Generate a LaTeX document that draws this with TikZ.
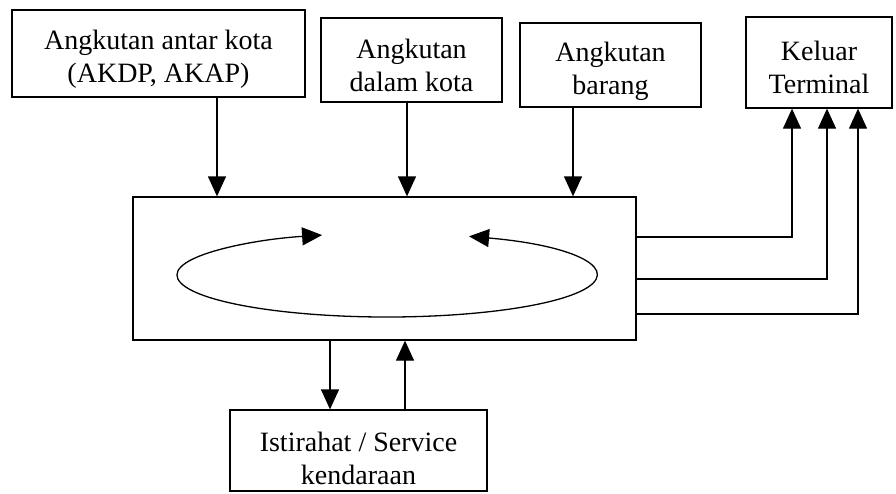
\documentclass[tikz,border=0pt]{standalone}
\usepackage{fontspec}
\setmainfont{Liberation Serif}
\usetikzlibrary{arrows.meta}
\newcommand{\lowr}[1]{\rule{0pt}{#1pt}}
\begin{document}
\begin{tikzpicture}[x=1pt,y=-1pt,
  box/.style={draw,line width=1.3pt,inner sep=0pt,align=center,font=\fontsize{28}{33}\selectfont},
  arr/.style={line width=1.3pt,-{Triangle[length=20pt,width=18pt]}},
  loop/.style={line width=1.3pt,{Triangle[length=20pt,width=18pt]}-{Triangle[length=20pt,width=18pt]}}]
\useasboundingbox[fill=white] (0,0) rectangle (896,493);
% boxes
\node[box,minimum width=293pt,minimum height=87pt] (b1) at (158.5,53.5) {\lowr{31}Angkutan antar kota\\(AKDP, AKAP)};
\node[box,minimum width=181pt,minimum height=84pt] (b2) at (411.5,60) {\lowr{30}Angkutan\\dalam kota};
\node[box,minimum width=181pt,minimum height=84pt] (b3) at (610.5,65) {\lowr{32}Angkutan\\barang};
\node[box,minimum width=146pt,minimum height=91pt] (kel) at (819,62.5) {\lowr{30}Keluar\\Terminal};
\node[box,minimum width=503pt,minimum height=143pt] (main) at (384.5,268.5) {};
\node[box,minimum width=257pt,minimum height=81pt] (ist) at (358.5,450.5) {\lowr{36}Istirahat / Service\\kendaraan};
% x positions of connectors
\coordinate (x1) at (217,0);
\coordinate (x2) at (407,0);
\coordinate (x3) at (573,0);
\coordinate (xd) at (330,0);
\coordinate (xu) at (405,0);
\coordinate (r1) at (792,237);
\coordinate (r2) at (827,279);
\coordinate (r3) at (858,314);
% incoming arrows
\draw[arr] (b1.south -| x1) -- (main.north -| x1);
\draw[arr] (b2.south -| x2) -- (main.north -| x2);
\draw[arr] (b3.south -| x3) -- (main.north -| x3);
% outgoing to Keluar Terminal
\draw[arr] (main.east |- r1) -| (kel.south -| r1);
\draw[arr] (main.east |- r2) -| (kel.south -| r2);
\draw[arr] (main.east |- r3) -| (kel.south -| r3);
% rest / service
\draw[arr] (main.south -| xd) -- (ist.north -| xd);
\draw[arr] (ist.north -| xu) -- (main.south -| xu);
% circulation loop
\coordinate (es) at (469.05,236.34);
\draw[loop] (es) arc[start angle=-67,end angle=252,x radius=210,y radius=42];
\end{tikzpicture}
\end{document}
